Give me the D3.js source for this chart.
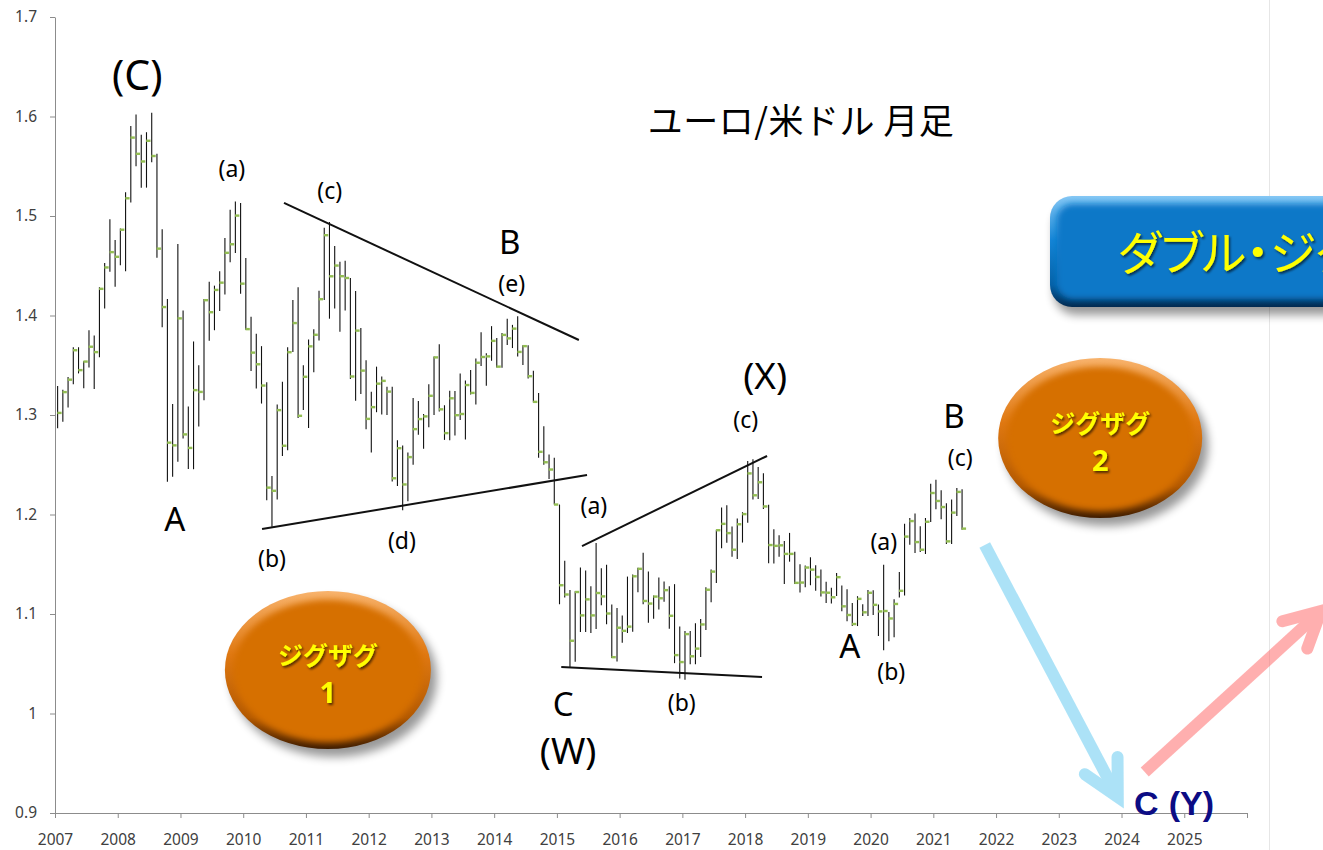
<!DOCTYPE html>
<html>
<head>
<meta charset="utf-8">
<script src="https://cdn.jsdelivr.net/npm/d3@7"></script>
<style>
  body { margin: 0; background: #fff; }
  svg { display: block; }
</style>
</head>
<body>
<div id="chart"></div>
<script>
// EUR/USD monthly bars, Jan 2007 .. Jun 2021
const startYear = 2007

const high = [
  1.3291, 1.3253, 1.3383, 1.3682, 1.3681, 1.3540, 1.3852, 1.3800, 1.4283, 1.4527, 1.4967, 1.4759,
  1.4874, 1.5238, 1.5904, 1.6019, 1.5817, 1.5842, 1.6038, 1.5626, 1.4868, 1.4166, 1.3111, 1.4719,
  1.4050, 1.3085, 1.3739, 1.3500, 1.4165, 1.4338, 1.4300, 1.4445, 1.4779, 1.5063, 1.5145, 1.5130,
  1.4579, 1.3988, 1.3816, 1.3692, 1.3330, 1.2388, 1.3106, 1.3334, 1.3680, 1.4157, 1.4283, 1.3500,
  1.3759, 1.3862, 1.4249, 1.4882, 1.4940, 1.4698, 1.4540, 1.4549, 1.4378, 1.4247, 1.3874, 1.3549,
  1.3234, 1.3486, 1.3386, 1.3284, 1.3283, 1.2745, 1.2693, 1.2624, 1.3171, 1.3140, 1.3010, 1.3308,
  1.3588, 1.3711, 1.3098, 1.3243, 1.3242, 1.3417, 1.3346, 1.3452, 1.3568, 1.3832, 1.3620, 1.3893,
  1.3775, 1.3825, 1.3967, 1.3906, 1.3993, 1.3700, 1.3700, 1.3445, 1.3221, 1.2887, 1.2602, 1.2570,
  1.2100, 1.1535, 1.1240, 1.1228, 1.1467, 1.1436, 1.1278, 1.1714, 1.1460, 1.1495, 1.1095, 1.1060,
  1.0985, 1.1376, 1.1397, 1.1464, 1.1616, 1.1428, 1.1186, 1.1366, 1.1327, 1.1278, 1.1300, 1.0874,
  1.0829, 1.0829, 1.0906, 1.0950, 1.1268, 1.1446, 1.1846, 1.2070, 1.2092, 1.1880, 1.1961, 1.2023,
  1.2537, 1.2556, 1.2477, 1.2414, 1.2097, 1.1852, 1.1791, 1.1734, 1.1815, 1.1625, 1.1500, 1.1487,
  1.1570, 1.1489, 1.1448, 1.1324, 1.1265, 1.1412, 1.1286, 1.1250, 1.1110, 1.1179, 1.1097, 1.1240,
  1.1239, 1.1096, 1.1495, 1.1019, 1.1147, 1.1422, 1.1908, 1.1966, 1.2011, 1.1881, 1.1965, 1.2310,
  1.2349, 1.2243, 1.2113, 1.2150, 1.2266, 1.2254
]

const low = [
  1.2866, 1.2932, 1.3076, 1.3310, 1.3418, 1.3268, 1.3477, 1.3261, 1.3580, 1.4070, 1.4440, 1.4290,
  1.4504, 1.4444, 1.5135, 1.5500, 1.5283, 1.5285, 1.5540, 1.4580, 1.3882, 1.2330, 1.2380, 1.2530,
  1.2765, 1.2457, 1.2455, 1.2885, 1.3147, 1.3747, 1.3852, 1.4045, 1.4211, 1.4536, 1.4628, 1.4219,
  1.3857, 1.3443, 1.3267, 1.3115, 1.2143, 1.1877, 1.2152, 1.2588, 1.2645, 1.3633, 1.2970, 1.3051,
  1.2870, 1.3430, 1.3748, 1.4155, 1.3968, 1.4071, 1.3837, 1.4050, 1.3361, 1.3144, 1.3211, 1.2858,
  1.2624, 1.3028, 1.3005, 1.3001, 1.2332, 1.2287, 1.2043, 1.2134, 1.2500, 1.2802, 1.2662, 1.2877,
  1.3000, 1.3034, 1.2750, 1.2746, 1.2795, 1.2950, 1.2755, 1.3207, 1.3105, 1.3493, 1.3295, 1.3545,
  1.3477, 1.3475, 1.3704, 1.3673, 1.3589, 1.3503, 1.3367, 1.3126, 1.2571, 1.2501, 1.2358, 1.2100,
  1.1098, 1.1167, 1.0458, 1.0520, 1.0818, 1.0820, 1.0808, 1.0848, 1.1087, 1.0896, 1.0557, 1.0522,
  1.0711, 1.0809, 1.0822, 1.1218, 1.1098, 1.0912, 1.0952, 1.1045, 1.1123, 1.0852, 1.0506, 1.0352,
  1.0340, 1.0494, 1.0494, 1.0569, 1.0839, 1.1119, 1.1312, 1.1662, 1.1717, 1.1575, 1.1554, 1.1718,
  1.1916, 1.2152, 1.2155, 1.2055, 1.1510, 1.1508, 1.1575, 1.1301, 1.1526, 1.1302, 1.1216, 1.1269,
  1.1289, 1.1234, 1.1176, 1.1110, 1.1106, 1.1181, 1.1028, 1.0926, 1.0879, 1.0879, 1.0981, 1.0981,
  1.0991, 1.0778, 1.0636, 1.0727, 1.0767, 1.1166, 1.1185, 1.1696, 1.1612, 1.1622, 1.1603, 1.1924,
  1.2054, 1.1952, 1.1704, 1.1704, 1.1986, 1.1847
]

const close = [
  1.3021, 1.3230, 1.3355, 1.3651, 1.3451, 1.3537, 1.3686, 1.3632, 1.4268, 1.4483, 1.4637, 1.4590,
  1.4862, 1.5178, 1.5788, 1.5625, 1.5548, 1.5756, 1.5603, 1.4672, 1.4085, 1.2722, 1.2695, 1.3971,
  1.2805, 1.2669, 1.3250, 1.3232, 1.4154, 1.4033, 1.4257, 1.4330, 1.4630, 1.4716, 1.5004, 1.4320,
  1.3863, 1.3627, 1.3510, 1.3296, 1.2270, 1.2238, 1.3049, 1.2691, 1.3631, 1.3924, 1.2992, 1.3384,
  1.3690, 1.3806, 1.4164, 1.4807, 1.4394, 1.4502, 1.4395, 1.4377, 1.3387, 1.3848, 1.3446, 1.2961,
  1.3079, 1.3315, 1.3343, 1.3235, 1.2364, 1.2666, 1.2302, 1.2577, 1.2858, 1.2959, 1.2986, 1.3193,
  1.3579, 1.3057, 1.2818, 1.3168, 1.2998, 1.3010, 1.3301, 1.3222, 1.3525, 1.3583, 1.3589, 1.3745,
  1.3486, 1.3805, 1.3770, 1.3868, 1.3634, 1.3692, 1.3390, 1.3132, 1.2630, 1.2525, 1.2452, 1.2100,
  1.1289, 1.1196, 1.0731, 1.1221, 1.0986, 1.1147, 1.0986, 1.1211, 1.1177, 1.1005, 1.0566, 1.0862,
  1.0831, 1.0873, 1.1379, 1.1454, 1.1131, 1.1105, 1.1175, 1.1158, 1.1240, 1.0982, 1.0587, 1.0517,
  1.0798, 1.0575, 1.0652, 1.0895, 1.1244, 1.1426, 1.1842, 1.1906, 1.1813, 1.1646, 1.1902, 1.2004,
  1.2413, 1.2193, 1.2324, 1.2081, 1.1693, 1.1685, 1.1690, 1.1604, 1.1604, 1.1313, 1.1316, 1.1467,
  1.1446, 1.1372, 1.1217, 1.1214, 1.1168, 1.1370, 1.1077, 1.0990, 1.0899, 1.1152, 1.1017, 1.1213,
  1.1092, 1.1026, 1.1030, 1.0955, 1.1101, 1.1233, 1.1778, 1.1934, 1.1723, 1.1646, 1.1927, 1.2216,
  1.2136, 1.2075, 1.1730, 1.2019, 1.2227, 1.1858
]

const priceTicks = [0.9, 1.0, 1.1, 1.2, 1.3, 1.4, 1.5, 1.6, 1.7]
const yearTicks = [2007, 2008, 2009, 2010, 2011, 2012, 2013, 2014, 2015, 2016,
  2017, 2018, 2019, 2020, 2021, 2022, 2023, 2024, 2025, 2026]
const yearLabels = ["2007", "2008", "2009", "2010", "2011", "2012", "2013", "2014", "2015", "2016",
  "2017", "2018", "2019", "2020", "2021", "2022", "2023", "2024", "2025", ""]

// wave counts, placed in (year, price)
const waveLabels = [
  { t: 2008.31, p: 1.639, text: "(C)", kind: "big" },
  { t: 2008.91, p: 1.195, text: "A", kind: "cap" },
  { t: 2009.82, p: 1.546, text: "(a)", kind: "small" },
  { t: 2010.46, p: 1.154, text: "(b)", kind: "small" },
  { t: 2011.38, p: 1.524, text: "(c)", kind: "small" },
  { t: 2012.53, p: 1.172, text: "(d)", kind: "small" },
  { t: 2014.25, p: 1.474, text: "B", kind: "cap" },
  { t: 2014.28, p: 1.431, text: "(e)", kind: "small" },
  { t: 2015.59, p: 1.207, text: "(a)", kind: "small" },
  { t: 2015.10, p: 1.009, text: "C", kind: "cap" },
  { t: 2015.18, p: 0.960, text: "(W)", kind: "mid" },
  { t: 2016.99, p: 1.009, text: "(b)", kind: "small" },
  { t: 2018.32, p: 1.337, text: "(X)", kind: "mid" },
  { t: 2018.01, p: 1.294, text: "(c)", kind: "small" },
  { t: 2019.67, p: 1.068, text: "A", kind: "cap" },
  { t: 2020.21, p: 1.171, text: "(a)", kind: "small" },
  { t: 2020.33, p: 1.041, text: "(b)", kind: "small" },
  { t: 2021.33, p: 1.299, text: "B", kind: "cap" },
  { t: 2021.43, p: 1.256, text: "(c)", kind: "small" }
]

// triangle / channel lines [t1, p1, t2, p2]
const trendLines = [
  [2010.65, 1.5131, 2015.35, 1.3754],
  [2010.30, 1.1854, 2015.48, 1.2397],
  [2015.40, 1.1683, 2018.35, 1.2588],
  [2015.07, 1.0467, 2018.27, 1.0367]
]

const width = 1323
const height = 850

const x = d3.scaleLinear().domain([2007, 2026]).range([55, 1247])
const y = d3.scaleLinear().domain([0.9, 1.7]).range([813, 17])

const svg = d3.select("#chart").append("svg")
  .attr("width", width)
  .attr("height", height)
  .style("background", "#fff")

const defs = svg.append("defs")
defs.append("filter").attr("id", "blur5")
  .attr("x", "-20%").attr("y", "-20%").attr("width", "150%").attr("height", "160%")
  .append("feGaussianBlur").attr("stdDeviation", 5)
defs.append("filter").attr("id", "blur3")
  .append("feGaussianBlur").attr("stdDeviation", 3)
defs.append("filter").attr("id", "txtShadow")
  .attr("x", "-10%").attr("y", "-20%").attr("width", "130%").attr("height", "150%")
  .append("feDropShadow")
  .attr("dx", 1.5).attr("dy", 2).attr("stdDeviation", 1.2)
  .attr("flood-color", "#000").attr("flood-opacity", 0.6)

function vGrad(id, stops) {
  const g = defs.append("linearGradient").attr("id", id)
    .attr("x1", 0).attr("y1", 0).attr("x2", 0).attr("y2", 1)
  stops.forEach(s => g.append("stop").attr("offset", s[0]).attr("stop-color", s[1]))
}
vGrad("rimOrange", [[0, "#F8B36C"], [0.4, "#E07912"], [0.8, "#B25800"], [1, "#3E1C00"]])
vGrad("rimBlue", [[0, "#86C8F5"], [0.4, "#1484D6"], [0.8, "#0560A6"], [1, "#022A50"]])

// page edge line on the right
svg.append("line")
  .attr("x1", 1269.5).attr("x2", 1269.5)
  .attr("y1", 0).attr("y2", height)
  .attr("stroke", "#e6e6e6")

// axes
svg.append("g")
  .attr("transform", `translate(${x(2007)},0)`)
  .call(d3.axisLeft(y)
    .tickValues(priceTicks)
    .tickSize(5)
    .tickSizeOuter(0)
    .tickPadding(13)
    .tickFormat(d => d === 1 ? "1" : d3.format(".1f")(d)))

svg.append("g")
  .attr("transform", `translate(0,${y(0.9)})`)
  .call(d3.axisBottom(x)
    .tickValues(yearTicks)
    .tickSize(5)
    .tickSizeOuter(0)
    .tickPadding(16)
    .tickFormat((d, i) => yearLabels[i]))

svg.selectAll(".domain, .tick line").attr("stroke", "#8c8c8c")
svg.selectAll(".tick text")
  .attr("fill", "#404040")
  .style("font-family", "'Noto Sans', sans-serif")
  .style("font-size", "15.5px")

// monthly high-low-close bars
const bars = d3.range(high.length).map(i => ({
  t: startYear + (i + 0.5) / 12,
  h: high[i], l: low[i], c: close[i]
}))

const barG = svg.append("g")
barG.selectAll("line")
  .data(bars)
  .join("line")
  .attr("x1", d => x(d.t))
  .attr("x2", d => x(d.t))
  .attr("y1", d => y(d.h))
  .attr("y2", d => y(d.l))
  .attr("stroke", "#111")
  .attr("stroke-width", 1.1)

barG.selectAll("rect")
  .data(bars)
  .join("rect")
  .attr("x", d => x(d.t) - 0.3)
  .attr("y", d => y(d.c) - 1.2)
  .attr("width", 4.3)
  .attr("height", 2.4)
  .attr("fill", "#93BE52")

// trend lines
svg.append("g").selectAll("line")
  .data(trendLines)
  .join("line")
  .attr("x1", d => x(d[0])).attr("y1", d => y(d[1]))
  .attr("x2", d => x(d[2])).attr("y2", d => y(d[3]))
  .attr("stroke", "#111")
  .attr("stroke-width", 2)

// title
svg.append("text")
  .attr("x", x(2018.89))
  .attr("y", y(1.5955))
  .attr("dy", "0.36em")
  .attr("text-anchor", "middle")
  .style("font-family", "'Noto Sans CJK JP', sans-serif")
  .style("font-size", "35px")
  .style("letter-spacing", "0.5px")
  .attr("fill", "#000")
  .text("ユーロ/米ドル 月足")

// wave labels
const labelSize = { big: 41, mid: 37, cap: 33, small: 23 }
svg.append("g").selectAll("text")
  .data(waveLabels)
  .join("text")
  .attr("x", d => x(d.t))
  .attr("y", d => y(d.p))
  .attr("dy", d => d.kind === "cap" ? "0.36em" : "0.3em")
  .attr("text-anchor", "middle")
  .style("font-family", "'Noto Sans', sans-serif")
  .style("font-size", d => labelSize[d.kind] + "px")
  .attr("fill", "#000")
  .text(d => d.text)

// orange beveled ovals
function bevelOval(t, p, rx, ry, num) {
  const cx = x(t), cy = y(p)
  const g = svg.append("g")
  g.append("ellipse")
    .attr("cx", cx + 6).attr("cy", cy + 8).attr("rx", rx).attr("ry", ry)
    .attr("fill", "#000").attr("opacity", 0.4)
    .attr("filter", "url(#blur5)")
  g.append("ellipse")
    .attr("cx", cx).attr("cy", cy).attr("rx", rx).attr("ry", ry)
    .attr("fill", "url(#rimOrange)")
  g.append("ellipse")
    .attr("cx", cx).attr("cy", cy + 1).attr("rx", rx - 8).attr("ry", ry - 8)
    .attr("fill", "#D66F05")
    .attr("filter", "url(#blur3)")
  g.append("text")
    .attr("x", cx).attr("y", cy - 14).attr("dy", "0.36em")
    .attr("text-anchor", "middle")
    .style("font-family", "'Noto Sans CJK JP', sans-serif")
    .style("font-weight", 700)
    .style("font-size", "25px")
    .attr("fill", "#FFFF00")
    .attr("filter", "url(#txtShadow)")
    .text("ジグザグ")
  g.append("text")
    .attr("x", cx).attr("y", cy + 23).attr("dy", "0.36em")
    .attr("text-anchor", "middle")
    .style("font-family", "'Noto Sans', sans-serif")
    .style("font-weight", 700)
    .style("font-size", "29px")
    .attr("fill", "#FFFF00")
    .attr("filter", "url(#txtShadow)")
    .text(num)
}
bevelOval(2011.35, 1.0437, 103, 79, "1")
bevelOval(2023.66, 1.2769, 102, 80, "2")

// blue beveled button (runs past the right edge as in the source)
const bx = x(2022.86), byTop = y(1.5201), byBot = y(1.4085)
const btn = svg.append("g")
btn.append("rect")
  .attr("x", bx + 4).attr("y", byTop + 8).attr("width", 340).attr("height", byBot - byTop)
  .attr("rx", 22).attr("fill", "#000").attr("opacity", 0.4)
  .attr("filter", "url(#blur5)")
btn.append("rect")
  .attr("x", bx).attr("y", byTop).attr("width", 340).attr("height", byBot - byTop)
  .attr("rx", 22).attr("fill", "url(#rimBlue)")
btn.append("rect")
  .attr("x", bx + 7).attr("y", byTop + 8).attr("width", 330).attr("height", byBot - byTop - 16)
  .attr("rx", 16).attr("fill", "#0A78C8")
  .attr("filter", "url(#blur3)")
btn.append("text")
  .attr("x", bx + 68).attr("y", (byTop + byBot) / 2 + 1).attr("dy", "0.38em")
  .style("font-family", "'Noto Sans CJK JP', sans-serif")
  .style("font-size", "47px")
  .style("font-feature-settings", "'palt'")
  .attr("fill", "#FFFF00")
  .attr("filter", "url(#txtShadow)")
  .text("ダブル・ジグザグ")

// forecast arrows
function arrow(t1, p1, t2, p2, color) {
  const x1 = x(t1), y1 = y(p1), x2 = x(t2), y2 = y(p2)
  const ang = Math.atan2(y1 - y2, x1 - x2)
  const len = 40, spread = 0.48
  const a1 = [x2 + len * Math.cos(ang + spread), y2 + len * Math.sin(ang + spread)]
  const a2 = [x2 + len * Math.cos(ang - spread), y2 + len * Math.sin(ang - spread)]
  const g = svg.append("g").attr("opacity", 0.5)
  g.append("line")
    .attr("x1", x1).attr("y1", y1).attr("x2", x2).attr("y2", y2)
    .attr("stroke", color).attr("stroke-width", 12)
  g.append("path")
    .attr("d", `M${a1[0]},${a1[1]}L${x2},${y2}L${a2[0]},${a2[1]}`)
    .attr("fill", "none")
    .attr("stroke", color).attr("stroke-width", 12)
    .attr("stroke-linecap", "round").attr("stroke-linejoin", "miter")
}
arrow(2021.82, 1.1693, 2023.94, 0.9161, "#5CC7F0")
arrow(2024.37, 0.9412, 2027.18, 1.1030, "#FF6262")

// target label
const target = svg.append("text")
  .attr("x", x(2024.2))
  .attr("y", y(0.898))
  .style("font-family", "'Liberation Sans', Arial, sans-serif")
  .style("font-weight", 700)
  .style("font-size", "34px")
  .attr("fill", "#0C0C84")
target.append("tspan").text("C")
target.append("tspan").attr("dx", 10).text("(Y)")
</script>
</body>
</html>
